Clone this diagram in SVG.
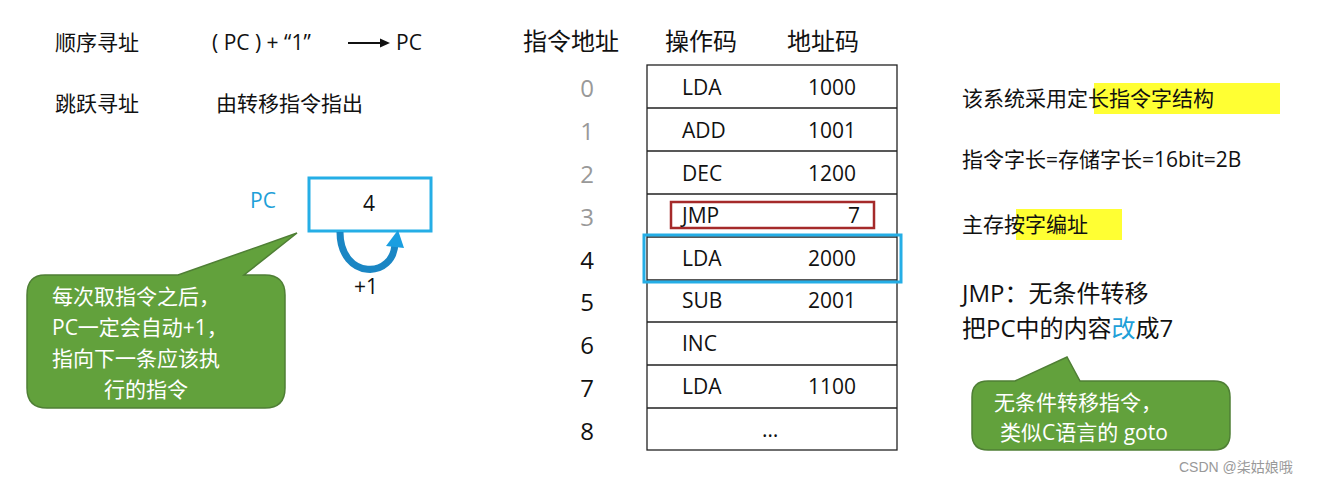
<svg xmlns="http://www.w3.org/2000/svg" width="1331" height="484" viewBox="0 0 1331 484">
<style>
text{font-family:"Open Sans","Noto Sans CJK SC",sans-serif;fill:#111}
.h{font-size:24px}
.t{font-size:21px}
.c{font-size:21px;fill:#fff}
.g{fill:#999}
.line{stroke:#222;stroke-width:1.3;fill:none}
</style>
<rect width="1331" height="484" fill="#fff"/>
<g id="top-left">
<text class="t" x="55" y="50">顺序寻址</text>
<text class="t" x="212" y="50">( PC ) + “1”</text>
<line x1="348" y1="43" x2="382" y2="43" stroke="#111" stroke-width="2"/>
<polygon points="390,43 380,38.5 380,47.5" fill="#111"/>
<text class="t" x="396" y="50">PC</text>
<text class="t" x="55" y="111">跳跃寻址</text>
<text class="t" x="216" y="111">由转移指令指出</text>
</g>
<g id="pc">
<text class="t" x="250" y="208" style="fill:#1ea0d8">PC</text>
<rect x="309" y="178" width="122" height="53" fill="#fff" stroke="#25aee6" stroke-width="3"/>
<text class="t" x="369" y="211" text-anchor="middle">4</text>
<path d="M340,232 C340,280 395,280 395,242" fill="none" stroke="#1a86c4" stroke-width="7"/>
<polygon points="386,246 398,230 404,248" fill="#1a9ee0"/>
<text class="t" x="366" y="294" text-anchor="middle">+1</text>
</g>
<g id="callout-left">
<path d="M45,275 H178 L297,233 L244,275 H265 Q285,275 285,295 V388 Q285,408 265,408 H47 Q27,408 27,388 V295 Q27,275 45,275 Z" fill="#62a13c" stroke="#4f7f35" stroke-width="1.5"/>
<text class="c" x="52" y="304">每次取指令之后，</text>
<text class="c" x="52" y="335">PC一定会自动+1，</text>
<text class="c" x="52" y="366">指向下一条应该执</text>
<text class="c" x="104" y="397">行的指令</text>
</g>
<g id="table">
<text class="h" x="523" y="50">指令地址</text>
<text class="h" x="665" y="50">操作码</text>
<text class="h" x="787" y="50">地址码</text>
<rect x="647" y="65" width="250" height="385" class="line"/>
<path class="line" d="M647,108H897M647,151H897M647,194H897M647,237H897M647,280H897M647,322H897M647,365H897M647,408H897"/>
<g class="h">
<text x="587" y="97" text-anchor="middle" class="h g">0</text>
<text x="587" y="140" text-anchor="middle" class="h g">1</text>
<text x="587" y="183" text-anchor="middle" class="h g">2</text>
<text x="587" y="226" text-anchor="middle" class="h g">3</text>
<text x="587" y="269" text-anchor="middle" class="h">4</text>
<text x="587" y="311" text-anchor="middle" class="h">5</text>
<text x="587" y="354" text-anchor="middle" class="h">6</text>
<text x="587" y="397" text-anchor="middle" class="h">7</text>
<text x="587" y="440" text-anchor="middle" class="h">8</text>
</g>
<text class="t" x="682" y="95">LDA</text><text class="t" x="808" y="95">1000</text>
<text class="t" x="682" y="138">ADD</text><text class="t" x="808" y="138">1001</text>
<text class="t" x="682" y="181">DEC</text><text class="t" x="808" y="181">1200</text>
<rect x="671" y="202" width="203" height="26" fill="none" stroke="#a52a2a" stroke-width="2.5"/>
<text class="t" x="682" y="223">JMP</text><text class="t" x="848" y="223">7</text>
<rect x="644" y="235" width="257" height="47" fill="none" stroke="#25aee6" stroke-width="3"/>
<text class="t" x="682" y="266">LDA</text><text class="t" x="808" y="266">2000</text>
<text class="t" x="682" y="308">SUB</text><text class="t" x="808" y="308">2001</text>
<text class="t" x="682" y="351">INC</text>
<text class="t" x="682" y="394">LDA</text><text class="t" x="808" y="394">1100</text>
<text class="t" x="762" y="437">…</text>
</g>
<g id="right-notes">
<rect x="1094" y="83" width="186" height="31" fill="#ffff33"/>
<text class="t" x="962" y="106">该系统采用定长指令字结构</text>
<text class="t" x="962" y="167">指令字长=存储字长=16bit=2B</text>
<rect x="1016" y="209" width="106" height="31" fill="#ffff33"/>
<text class="t" x="962" y="232">主存按字编址</text>
<text x="962" y="302" style="font-size:24px">JMP：无条件转移</text>
<text x="962" y="337" style="font-size:24px">把PC中的内容<tspan style="fill:#1ea0d8">改</tspan>成7</text>
</g>
<g id="callout-right">
<path d="M988,381 H1015 L1067,357 L1080,381 H1214 Q1230,381 1230,397 V434 Q1230,450 1214,450 H988 Q972,450 972,434 V397 Q972,381 988,381 Z" fill="#62a13c" stroke="#4f7f35" stroke-width="1.5"/>
<text class="c" x="994" y="410">无条件转移指令，</text>
<text class="c" x="1000" y="440">类似C语言的 goto</text>
</g>
<text x="1179" y="472" style="font-size:14px;fill:#999;font-family:'Liberation Sans','Noto Sans CJK SC',sans-serif">CSDN @柒姑娘哦</text>
</svg>
